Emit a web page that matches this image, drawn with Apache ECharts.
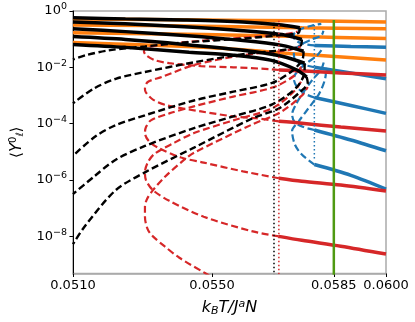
<!DOCTYPE html>
<html>
<head>
<meta charset="utf-8">
<script src="https://cdn.jsdelivr.net/npm/echarts@6.0.0/dist/echarts.min.js"></script>
<style>
html, body { margin: 0; background: #fff; }
#chart { width: 415px; height: 322px; }
</style>
</head>
<body>
<div id="chart"></div>
<script>
// tick positions
const xTicks = [0.0510, 0.0550, 0.0585, 0.0600]
const yTicks = [1e-8, 1e-6, 1e-4, 1e-2, 1]

// black family: stable (solid) branch on top, unstable (dashed) branch folding back
const blackSolid = [
    [[0.05100, 0.57], [0.05251, 0.525], [0.05420, 0.48], [0.05589, 0.41], [0.05701, 0.32], [0.05752, 0.255]],
    [[0.05100, 0.41], [0.05251, 0.35], [0.05420, 0.276], [0.05589, 0.20], [0.05701, 0.145], [0.05758, 0.097]],
    [[0.05100, 0.235], [0.05251, 0.185], [0.05420, 0.134], [0.05589, 0.089], [0.05701, 0.060], [0.05763, 0.037]],
    [[0.05100, 0.123], [0.05251, 0.097], [0.05420, 0.065], [0.05589, 0.040], [0.05701, 0.0247], [0.05766, 0.014]],
    [[0.05100, 0.065], [0.05251, 0.051], [0.05434, 0.034], [0.05561, 0.027], [0.05668, 0.0179], [0.05744, 0.0080], [0.05772, 0.0045]]
]
const blackDashed = [
    [[0.05752, 0.255], [0.05749, 0.17], [0.05715, 0.145], [0.05589, 0.105], [0.05420, 0.076], [0.05307, 0.055], [0.05203, 0.040], [0.05138, 0.027], [0.05100, 0.019]],
    [[0.05758, 0.097], [0.05755, 0.060], [0.05715, 0.043], [0.05589, 0.029], [0.05448, 0.015], [0.05307, 6.8e-3], [0.05223, 3.9e-3], [0.05158, 1.7e-3], [0.05100, 5.2e-4]],
    [[0.05763, 0.037], [0.05760, 0.019], [0.05730, 7.4e-3], [0.05673, 2.8e-3], [0.05561, 1.36e-3], [0.05448, 6.6e-4], [0.05307, 1.97e-4], [0.05223, 8.8e-5], [0.05166, 3.6e-5], [0.05100, 7.2e-6]],
    [[0.05766, 0.014], [0.05766, 7.4e-3], [0.05744, 2.0e-3], [0.05673, 4.8e-4], [0.05561, 1.8e-4], [0.05448, 6.9e-5], [0.05307, 1.6e-5], [0.05223, 5.2e-6], [0.05158, 1.23e-6], [0.05100, 3.1e-7]],
    [[0.05772, 4.5e-3], [0.05775, 2.8e-3], [0.05758, 1.5e-3], [0.05693, 3.5e-4], [0.05617, 1.55e-4], [0.05448, 1.4e-5], [0.05307, 1.85e-6], [0.05223, 4.3e-7], [0.05138, 2.6e-8], [0.05100, 5.2e-9]]
]

// red family
const redSolid = [
    [[0.06000, 5.3e-3], [0.05870, 6.3e-3], [0.05766, 7.4e-3], [0.05692, 8.0e-3]],
    [[0.06000, 5.4e-5], [0.05870, 7.5e-5], [0.05758, 1.03e-4], [0.05692, 1.2e-4]],
    [[0.06000, 4.0e-7], [0.05870, 6.5e-7], [0.05758, 8.9e-7], [0.05692, 1.14e-6]],
    [[0.06000, 2.3e-9], [0.05870, 4.4e-9], [0.05758, 7.1e-9], [0.05692, 9.8e-9]]
]
const redDashed = [
    [[0.05692, 8.0e-3], [0.05665, 8.6e-3], [0.05561, 1.0e-2], [0.05468, 1.1e-2], [0.05377, 1.4e-2], [0.05335, 1.8e-2], [0.05310, 2.7e-2], [0.05304, 3.7e-2], [0.05315, 5.1e-2], [0.05363, 6.5e-2], [0.05476, 8.9e-2], [0.05589, 0.114], [0.05701, 0.145], [0.05746, 0.185]],
    [[0.05692, 1.2e-4], [0.05625, 1.55e-4], [0.05561, 1.8e-4], [0.05468, 2.7e-4], [0.05372, 4.4e-4], [0.05330, 7.1e-4], [0.05310, 1.25e-3], [0.05307, 1.7e-3], [0.05315, 3.0e-3], [0.05355, 4.5e-3], [0.05448, 1.2e-2], [0.05589, 2.7e-2], [0.05715, 4.0e-2], [0.05755, 5.5e-2]],
    [[0.05692, 1.14e-6], [0.05589, 2.0e-6], [0.05476, 4.1e-6], [0.05411, 6.2e-6], [0.05344, 1.4e-5], [0.05318, 2.4e-5], [0.05307, 4.6e-5], [0.05310, 7.5e-5], [0.05324, 1.3e-4], [0.05377, 2.3e-4], [0.05448, 4.1e-4], [0.05561, 9.1e-4], [0.05673, 1.9e-3], [0.05735, 4.9e-3], [0.05760, 1.2e-2]],
    [[0.05692, 9.8e-9], [0.05617, 1.47e-8], [0.05476, 4.9e-8], [0.05377, 1.8e-7], [0.05330, 4.3e-7], [0.05310, 9.7e-7], [0.05307, 1.85e-6], [0.05315, 4.1e-6], [0.05335, 8.5e-6], [0.05392, 2.1e-5], [0.05448, 4.6e-5], [0.05561, 1.3e-4], [0.05673, 3.5e-4], [0.05738, 1.5e-3], [0.05763, 4.5e-3]],
    [[0.05518, 2.6e-10], [0.05482, 4.7e-10], [0.05406, 1.7e-9], [0.05363, 4.4e-9], [0.05330, 9.8e-9], [0.05315, 1.73e-8], [0.05307, 4.9e-8], [0.05307, 1.1e-7], [0.05313, 2.1e-7], [0.05330, 4.3e-7], [0.05363, 1.23e-6], [0.05420, 5.2e-6], [0.05448, 9.2e-6], [0.05617, 9.5e-5], [0.05696, 2.5e-4], [0.05758, 9.8e-4], [0.05775, 2.0e-3]]
]

// orange family
const orangeSolid = [
    [[0.05100, 0.525], [0.05476, 0.48], [0.05758, 0.447], [0.06000, 0.41]],
    [[0.05100, 0.32], [0.05476, 0.29], [0.05758, 0.255], [0.06000, 0.235]],
    [[0.05100, 0.17], [0.05476, 0.145], [0.05758, 0.123], [0.06000, 0.105]],
    [[0.05100, 7.6e-2], [0.05476, 5.1e-2], [0.05758, 2.9e-2], [0.06000, 1.8e-2]]
]

// blue family
const blueSolid = [
    [[0.06000, 5.1e-2], [0.05899, 5.5e-2], [0.05794, 6.0e-2]],
    [[0.06000, 3.9e-3], [0.05899, 6.3e-3], [0.05794, 1.0e-2]],
    [[0.06000, 2.3e-4], [0.05899, 4.4e-4], [0.05794, 8.4e-4]],
    [[0.06000, 1.08e-5], [0.05899, 2.6e-5], [0.05794, 5.9e-5]],
    [[0.06000, 4.7e-7], [0.05899, 1.45e-6], [0.05794, 3.5e-6]]
]
const blueDashed = [
    [[0.05794, 6.0e-2], [0.05758, 7.0e-2], [0.05738, 9.7e-2], [0.05735, 0.145], [0.05752, 0.217], [0.05786, 0.30], [0.05814, 0.35]],
    [[0.05794, 1.0e-2], [0.05758, 1.3e-2], [0.05738, 1.9e-2], [0.05735, 3.4e-2], [0.05752, 6.0e-2], [0.05786, 9.7e-2], [0.05814, 0.134], [0.05820, 0.20]],
    [[0.05794, 8.4e-4], [0.05766, 1.16e-3], [0.05744, 2.0e-3], [0.05735, 3.9e-3], [0.05746, 7.4e-3], [0.05772, 1.4e-2], [0.05803, 2.7e-2], [0.05820, 5.1e-2]],
    [[0.05794, 5.9e-5], [0.05763, 7.5e-5], [0.05738, 1.1e-4], [0.05730, 2.1e-4], [0.05741, 4.8e-4], [0.05760, 1.16e-3], [0.05786, 3.3e-3], [0.05814, 8.6e-3], [0.05823, 1.9e-2]],
    [[0.05794, 3.5e-6], [0.05758, 7.9e-6], [0.05738, 1.8e-5], [0.05730, 5.4e-5], [0.05749, 1.2e-4], [0.05777, 3.5e-4], [0.05808, 1.16e-3], [0.05825, 3.9e-3], [0.05828, 1.0e-2]]
]

// vertical markers: [x, yTop, yBottom]
const blackDotted = [0.05678, 0.38, 1e-10]
const redDotted = [0.05692, 0.447, 1e-10]
const blueDotted = [0.05794, 0.32, 5.2e-6]
const greenLine = [0.0585, 0.48, 1e-10]

const dash = [7, 3.5]
const dot = [1.5, 2.5]
const series = []

function addCurves(curves, color, width, type) {
    curves.forEach(d => {
        series.push({
            type: 'line',
            data: d,
            symbol: 'none',
            smooth: 0.3,
            silent: true,
            lineStyle: { color: color, width: width, type: type, cap: 'butt' }
        })
    })
}
function addVLine(v, color, width, type) {
    series.push({
        type: 'line',
        data: [[v[0], v[1]], [v[0], v[2]]],
        symbol: 'none',
        silent: true,
        lineStyle: { color: color, width: width, type: type }
    })
}

addCurves(orangeSolid, '#ff7f0e', 3.5, 'solid')
addCurves(blueDashed, '#1f77b4', 2.2, dash)
addCurves(blueSolid, '#1f77b4', 3.5, 'solid')
addCurves(redDashed, '#d62728', 2.2, dash)
addCurves(redSolid, '#d62728', 3.5, 'solid')
addCurves(blackDashed, '#000000', 2.4, dash)
addCurves(blackSolid, '#000000', 3.5, 'solid')
addVLine(blackDotted, '#000000', 1.5, dot)
addVLine(redDotted, '#d62728', 1.5, dot)
addVLine(blueDotted, '#1f77b4', 1.5, dot)
addVLine(greenLine, '#4f9a12', 2.5, 'solid')

const chart = echarts.init(document.getElementById('chart'))
chart.setOption({
    animation: false,
    textStyle: { fontFamily: 'DejaVu Sans' },
    grid: {
        left: 66, right: 29, top: 11, bottom: 44,
        show: true,
        borderColor: '#aaaaaa',
        borderWidth: 1.5
    },
    xAxis: {
        type: 'value',
        min: 0.051,
        max: 0.060,
        splitLine: { show: false },
        axisLine: { onZero: false, lineStyle: { color: '#aaaaaa', width: 1.5 } },
        axisTick: { customValues: xTicks, length: 3.5, lineStyle: { color: '#000' } },
        axisLabel: {
            customValues: xTicks,
            formatter: v => v.toFixed(4),
            color: '#000',
            fontSize: 13,
            margin: 6
        },
        name: '{i|k}{sub|B}{i|T/J}{sup|a}{i|N}',
        nameLocation: 'middle',
        nameGap: 25,
        nameTextStyle: {
            rich: {
                i: { fontSize: 16, fontStyle: 'italic', color: '#000' },
                sub: { fontSize: 11, fontStyle: 'italic', color: '#000', padding: [7, 0, 0, 0] },
                sup: { fontSize: 11, fontStyle: 'italic', color: '#000', padding: [0, 0, 8, 0] }
            }
        }
    },
    yAxis: {
        type: 'log',
        min: 4.7e-10,
        max: 1,
        splitLine: { show: false },
        axisLine: { onZero: false, lineStyle: { color: '#000', width: 1 } },
        axisTick: { customValues: yTicks, length: 3.5, lineStyle: { color: '#000' } },
        axisLabel: {
            customValues: yTicks,
            formatter: v => {
                const e = Math.round(Math.log10(v))
                return '{b|10}{sup|' + (e < 0 ? '\u2212' + (-e) : e) + '}'
            },
            margin: 6,
            rich: {
                b: { fontSize: 13, color: '#000' },
                sup: { fontSize: 9.5, color: '#000', padding: [0, 0, 8, 0] }
            }
        },
        name: '\u27e8{i|Y}{sup|0}{sub|\u2113}\u27e9',
        nameLocation: 'middle',
        nameGap: 42,
        nameTextStyle: {
            fontSize: 15,
            color: '#000',
            rich: {
                i: { fontSize: 15, fontStyle: 'italic', color: '#000' },
                sup: { fontSize: 10, color: '#000', padding: [0, 0, 8, 0] },
                sub: { fontSize: 10, fontStyle: 'italic', color: '#000', padding: [7, 0, 0, 0] }
            }
        }
    },
    series: series
})
</script>
</body>
</html>
